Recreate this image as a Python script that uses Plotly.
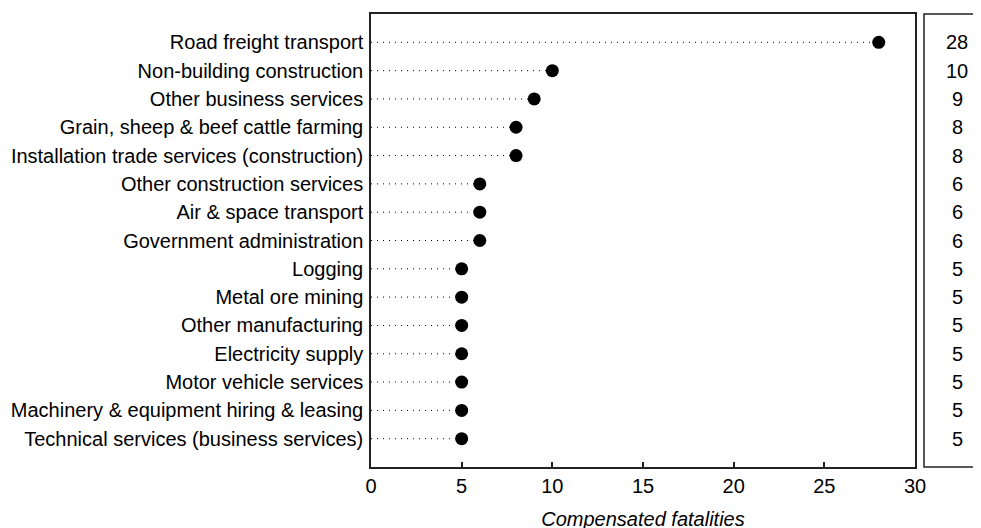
import plotly.graph_objects as go

categories = [
    "Road freight transport",
    "Non-building construction",
    "Other business services",
    "Grain, sheep & beef cattle farming",
    "Installation trade services (construction)",
    "Other construction services",
    "Air & space transport",
    "Government administration",
    "Logging",
    "Metal ore mining",
    "Other manufacturing",
    "Electricity supply",
    "Motor vehicle services",
    "Machinery & equipment hiring & leasing",
    "Technical services (business services)",
]
values = [28, 10, 9, 8, 8, 6, 6, 6, 5, 5, 5, 5, 5, 5, 5]
x_ticks = [0, 5, 10, 15, 20, 25, 30]
x_title = "Compensated fatalities"

FONT = "Liberation Sans, Arial, sans-serif"
FS = 20
W, H = 981, 528
OFF = 8  # page body offset
L, T = 371 - OFF, 14 - OFF
R = W - (915 - OFF)
B = H - (467 - OFF)
plot_w = W - L - R

idx = list(range(len(categories)))

# dotted leader lines
lx, ly = [], []
for i, v in zip(idx, values):
    lx += [0, v, None]
    ly += [i, i, None]

fig = go.Figure()
fig.add_trace(go.Scatter(
    x=lx, y=ly, mode="lines",
    line=dict(color="black", width=1, dash="1px,5px"),
    hoverinfo="skip", showlegend=False,
))
fig.add_trace(go.Scatter(
    x=values, y=idx, mode="markers",
    marker=dict(color="black", size=13),
    showlegend=False,
))

# right panel box
px0 = (924 - OFF - L) / plot_w
px1 = (W + 20 - L) / plot_w
fig.add_shape(type="rect", xref="paper", yref="paper",
              x0=px0, x1=px1, y0=0, y1=1,
              line=dict(color="#222", width=1.5), layer="above")
tx = (957 - OFF - L) / plot_w
for i, v in zip(idx, values):
    fig.add_annotation(x=tx, y=i, xref="paper", yref="y", text=str(v),
                       showarrow=False, font=dict(family=FONT, size=FS, color="black"),
                       xanchor="center", yanchor="middle")

fig.update_layout(
    width=W, height=H,
    margin=dict(l=L, r=R, t=T, b=B, autoexpand=False),
    plot_bgcolor="white", paper_bgcolor="white",
    font=dict(family=FONT, size=FS, color="black"),
    xaxis=dict(
        range=[0, 30], tickvals=x_ticks, ticks="inside", ticklen=5, tickwidth=1.5,
        tickcolor="#222", showline=True, linecolor="#222", linewidth=1.5,
        mirror=True, showgrid=False, zeroline=False, automargin=False,
        tickfont=dict(family=FONT, size=FS), ticklabelstandoff=0,
        title=dict(text=x_title, font=dict(family=FONT, size=FS, style="italic"), standoff=16),
    ),
    yaxis=dict(
        range=[len(categories), -1], tickvals=idx, ticktext=categories,
        ticks="", showline=True, linecolor="#222", linewidth=1.5, mirror=True,
        showgrid=False, zeroline=False, ticklabelstandoff=2, automargin=False,
        tickfont=dict(family=FONT, size=FS),
    ),
)

fig.write_html("out.html")
